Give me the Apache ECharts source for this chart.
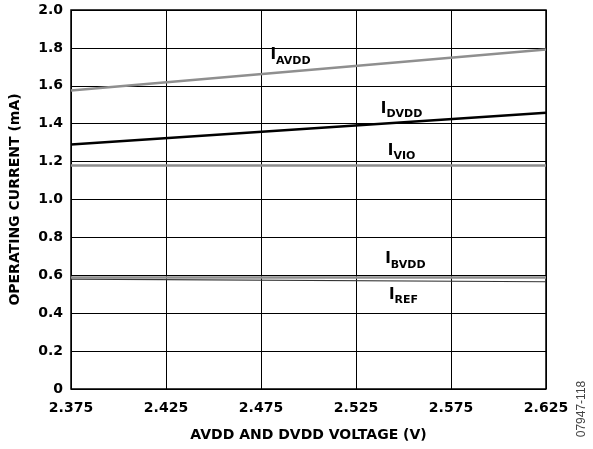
<!DOCTYPE html>
<html>
<head>
<meta charset="utf-8">
<script src="https://cdn.jsdelivr.net/npm/echarts@6/dist/echarts.min.js"></script>
<style>
html,body{margin:0;padding:0;background:#fff;}
#chart{width:593px;height:449px;}
</style>
</head>
<body>
<div id="chart"></div>
<script>
// Supply voltage sweep (V) — endpoints of each measured trace
const voltage = [2.375, 2.625];
const xTicks = [2.375, 2.425, 2.475, 2.525, 2.575, 2.625];

// Operating current per supply (mA)
const iAVDD = [1.575, 1.792];
const iDVDD = [1.290, 1.458];
const iVIO  = [1.180, 1.180];
const iBVDD = [0.588, 0.588];
const iREF  = [0.580, 0.566];

// Trace labels: main letter, subscript, anchor in data units
const traceLabels = [
  { main: 'I', sub: 'AVDD', at: [2.4905, 1.752] },
  { main: 'I', sub: 'DVDD', at: [2.5490, 1.470] },
  { main: 'I', sub: 'VIO',  at: [2.5490, 1.249] },
  { main: 'I', sub: 'BVDD', at: [2.5510, 0.675] },
  { main: 'I', sub: 'REF',  at: [2.5500, 0.490] }
];

const FONT = 'DejaVu Sans, Verdana, sans-serif';
const toPairs = ys => voltage.map((v, i) => [v, ys[i]]);

function lineSeries(name, ys, color, width) {
  return {
    name, type: 'line', data: toPairs(ys), symbol: 'none', silent: true,
    lineStyle: { color, width }, z: 3, animation: false
  };
}

const series = [
  lineSeries('IAVDD', iAVDD, '#8f8f8f', 2.5),
  lineSeries('IDVDD', iDVDD, '#000000', 2.5),
  lineSeries('IVIO', iVIO, '#8f8f8f', 2.5),
  lineSeries('IREF', iREF, '#333333', 1.2),
  lineSeries('IBVDD', iBVDD, '#8f8f8f', 2.5)
];

// Text labels placed through the data coordinate system
series.push({
  type: 'scatter', data: [], silent: true, animation: false,
  markPoint: {
    symbol: 'circle', symbolSize: 0, animation: false,
    data: traceLabels.map(t => ({
      coord: t.at,
      label: {
        show: true, position: 'inside',
        formatter: '{m|' + t.main + '}{s|' + t.sub + '}',
        rich: {
          m: { fontFamily: FONT, fontWeight: 'bold', fontSize: 15, color: '#000', lineHeight: 18, verticalAlign: 'top' },
          s: { fontFamily: FONT, fontWeight: 'bold', fontSize: 11, color: '#000', lineHeight: 18, padding: [8, 0, 0, 0] }
        }
      }
    }))
  }
});

const chart = echarts.init(document.getElementById('chart'), null, { renderer: 'canvas' });
chart.setOption({
  animation: false,
  backgroundColor: '#fff',
  grid: {
    left: 70, right: 47, top: 10, bottom: 60,
    show: true, borderColor: '#000', borderWidth: 1.5, backgroundColor: 'transparent'
  },
  xAxis: {
    type: 'value', min: 2.375, max: 2.625, interval: 0.05,
    name: 'AVDD AND DVDD VOLTAGE (V)', nameLocation: 'middle', nameGap: 39,
    nameTextStyle: { fontFamily: FONT, fontWeight: 'bold', fontSize: 14, color: '#000' },
    axisLine: { show: false }, axisTick: { show: false },
    axisLabel: {
      margin: 12, fontFamily: FONT, fontWeight: 'bold', fontSize: 14, color: '#000',
      showMinLabel: true, showMaxLabel: true,
      formatter: v => {
        const hit = xTicks.find(t => Math.abs(t - v) < 1e-6);
        return hit === undefined ? '' : hit.toFixed(3);
      }
    },
    splitLine: { show: true, lineStyle: { color: '#000', width: 1 } }
  },
  yAxis: {
    type: 'value', min: 0, max: 2, interval: 0.2,
    name: 'OPERATING CURRENT (mA)', nameLocation: 'middle', nameGap: 49,
    nameTextStyle: { fontFamily: FONT, fontWeight: 'bold', fontSize: 14, color: '#000' },
    axisLine: { show: false }, axisTick: { show: false },
    axisLabel: {
      margin: 8, fontFamily: FONT, fontWeight: 'bold', fontSize: 14, color: '#000',
      formatter: v => (Math.abs(v) < 1e-9 ? '0' : v.toFixed(1))
    },
    splitLine: { show: true, lineStyle: { color: '#000', width: 1 } }
  },
  graphic: [{
    type: 'text', x: 582, y: 409, rotation: Math.PI / 2,
    style: {
      text: '07947-118', fontFamily: 'Liberation Sans, Arial, sans-serif', fontSize: 12, fill: '#444',
      align: 'center', verticalAlign: 'middle'
    }
  }],
  series
});
</script>
</body>
</html>
